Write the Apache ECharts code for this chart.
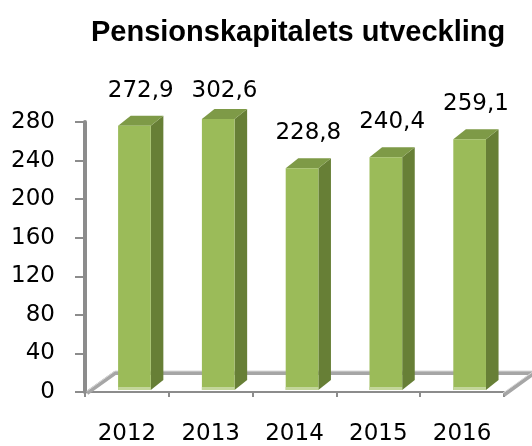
<!DOCTYPE html>
<html><head><meta charset="utf-8">
<script src="https://cdn.jsdelivr.net/npm/echarts@6/dist/echarts.min.js"></script>
<style>html,body{margin:0;padding:0;background:#fff}#c{width:532px;height:446px}</style>
</head><body><div id="c"></div>
<script>
const titleText = 'Pensionskapitalets utveckling';
const categories = ['2012', '2013', '2014', '2015', '2016'];
const values = [272.9, 302.6, 228.8, 240.4, 259.1];
const yTicks = [0, 40, 80, 120, 160, 200, 240, 280];
const yMin = 0, yMax = 280, yStep = 40;

const FONT = '"DejaVu Sans"';
const chart = echarts.init(document.getElementById('c'), null, {renderer: 'canvas'});
function fmt(v) { return v.toFixed(1).replace('.', ','); }

const option = {
  animation: false,
  title: {
    text: titleText, left: 86, top: 13,
    textStyle: {fontFamily: '"Liberation Sans"', fontWeight: 'bold', fontSize: 29, color: '#000'}
  },
  grid: {left: 85, right: 28, top: 122, bottom: 50, containLabel: false},
  xAxis: {
    type: 'category', data: categories, boundaryGap: true, offset: 3,
    axisLine: {lineStyle: {color: '#8c8c8c', width: 2}},
    axisTick: {show: true, length: 5, lineStyle: {color: '#8c8c8c', width: 2}},
    axisLabel: {fontFamily: FONT, fontSize: 23, color: '#000', margin: 28},
    splitLine: {show: false}
  },
  yAxis: {
    type: 'value', min: yMin, max: yMax, interval: yStep,
    axisLine: {show: true, lineStyle: {color: '#8c8c8c', width: 4}},
    axisTick: {show: true, length: 10, lineStyle: {color: '#8c8c8c', width: 2}},
    axisLabel: {fontFamily: FONT, fontSize: 23, color: '#000', margin: 30,
      formatter: v => yTicks.indexOf(v) >= 0 ? String(v) : ''},
    splitLine: {show: false}
  },
  series: [{
    type: 'custom',
    data: values.map((v, i) => [i, v]),
    encode: {x: 0, y: 1},
    clip: false,
    z: 5,
    renderItem: function (params, api) {
      const i = api.value(0), v = api.value(1);
      const base = api.coord([i, 0]);
      const top = api.coord([i, Math.min(v, yMax)]);
      const bw = api.size([1, 0])[0];
      const fw = bw * 0.39;
      const cx = base[0] + bw * 0.09;
      const x0 = cx - fw / 2, x1 = cx + fw / 2;
      const dx = bw * 0.15, dy = 10;
      const by = base[1] - 2, ty = top[1] - 3;
      const labelGap = v > yMax ? 28 : 35;
      return {
        type: 'group',
        children: [
          {type: 'polygon', shape: {points: [[x1, ty], [x1 + dx, ty - dy], [x1 + dx, by - dy], [x1, by]]},
            style: {fill: '#677f36'}},
          {type: 'polygon', shape: {points: [[x0, ty], [x0 + dx, ty - dy], [x1 + dx, ty - dy], [x1, ty]]},
            style: {fill: '#7e9a47'}},
          {type: 'rect', shape: {x: x0, y: ty, width: fw, height: by - ty},
            style: {fill: '#9bbb59'}},
          {type: 'rect', shape: {x: x0, y: by - 3, width: fw, height: 3},
            style: {fill: '#c3d69b'}},
          {type: 'text', x: x0 + (fw + dx) / 2, y: ty - labelGap,
            style: {text: fmt(v), fontFamily: FONT, fontSize: 23, fill: '#000',
              align: 'center', verticalAlign: 'middle'}}
        ]
      };
    }
  }]
};
chart.setOption(option);

// 3D floor outline drawn from axis pixel positions
const c0 = chart.convertToPixel({gridIndex: 0}, [0, 0]);
const c1 = chart.convertToPixel({gridIndex: 0}, [1, 0]);
const cN = chart.convertToPixel({gridIndex: 0}, [categories.length - 1, 0]);
const band = c1[0] - c0[0];
const lx = c0[0] - band / 2, rx = cN[0] + band / 2;
const fy = c0[1] + 2, fdx = 30, fdy = 21;
chart.setOption({
  graphic: [{
    type: 'polyline', z: 1,
    shape: {points: [[lx + 2, fy - 1], [lx + fdx, fy - fdy], [rx + fdx, fy - fdy], [rx, fy + 1]]},
    style: {stroke: '#a6a6a6', lineWidth: 4, fill: null}
  }, {
    type: 'polyline', z: 1,
    shape: {points: [[lx + 2, fy - 3], [lx + fdx, fy - fdy - 2], [rx + fdx, fy - fdy - 2], [rx - 1, fy - 1]]},
    style: {stroke: '#d9d9d9', lineWidth: 1, fill: null}
  }]
});
</script>
</body></html>
